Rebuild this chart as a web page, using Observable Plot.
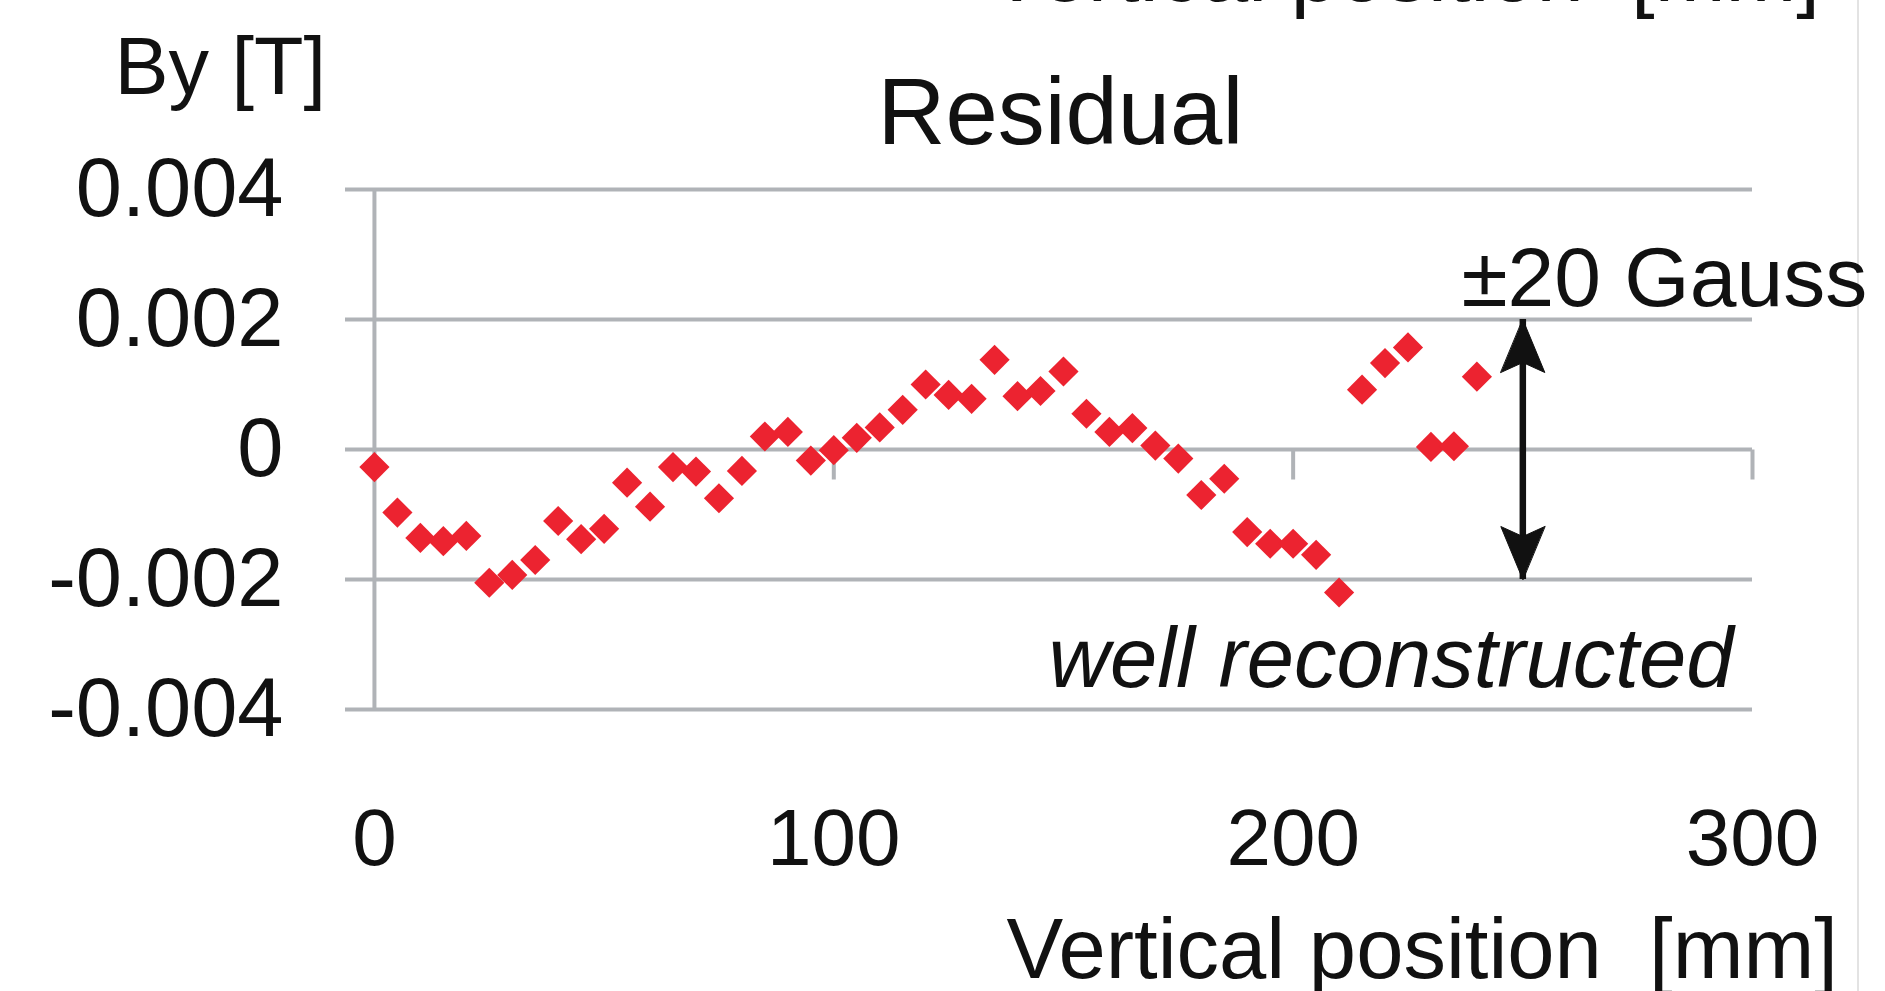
<!DOCTYPE html>
<html>
<head>
<meta charset="utf-8">
<script src="https://cdn.jsdelivr.net/npm/d3@7"></script>
<script src="https://cdn.jsdelivr.net/npm/@observablehq/plot@0.6"></script>
<style>
  html, body { margin: 0; padding: 0; overflow: hidden; background: #fff; }
  #wrap { position: relative; width: 1885px; height: 991px; }
  #edge { position: absolute; left: 1857px; top: 0; width: 2px; height: 991px; background: #e3e3e3; }
  #chart { position: absolute; left: 0; top: 0; }
</style>
</head>
<body>
<div id="wrap"><div id="edge"></div><div id="chart"></div></div>
<script>
// Vertical position [mm]
const positions = [0, 5, 10, 15, 20, 25, 30, 35, 40, 45, 50, 55, 60, 65, 70, 75, 80, 85, 90, 95,
  100, 105, 110, 115, 120, 125, 130, 135, 140, 145, 150, 155, 160, 165, 170, 175, 180, 185, 190, 195,
  200, 205, 210, 215, 220, 225, 230, 235, 240];
// Residual By [T]
const residuals = [-0.00027, -0.00097, -0.00136, -0.00141, -0.00133, -0.00205, -0.00193, -0.00170, -0.00110, -0.00138,
  -0.00122, -0.00051, -0.00088, -0.00027, -0.00034, -0.00075, -0.00033, 0.00020, 0.00027, -0.00017,
  -0.00001, 0.00018, 0.00034, 0.00061, 0.00100, 0.00084, 0.00078, 0.00138, 0.00082, 0.00090,
  0.00120, 0.00055, 0.00027, 0.00033, 0.00006, -0.00014, -0.00070, -0.00045, -0.00127, -0.00145,
  -0.00145, -0.00162, -0.00220, 0.00092, 0.00133, 0.00157, 0.00004, 0.00005, 0.00112];

const xTicks = [0, 100, 200, 300];
const yTicks = [-0.004, -0.002, 0, 0.002, 0.004];
const yTickLabels = ["-0.004", "-0.002", "0", "0.002", "0.004"];

const titleText = "Residual";
const yTitle = "By [T]";
const xTitle = "Vertical position\u00a0 [mm]";
const bandText = "±20 Gauss";
const noteText = "well reconstructed";
const gaussBand = 0.002;   // ±20 Gauss = ±0.002 T
const arrowAt = 250;       // mm

const data = positions.map((x, i) => ({x, y: residuals[i]}));
const yLabelOf = new Map(yTicks.map((v, i) => [v, yTickLabels[i]]));

const W = 1885, H = 991;
const mL = 345, mR = 133, mT = 189, mB = 282;
const gridColor = "#b0b3b7";
const ink = "#111";
const red = "#ec2330";

const label = (text, px, py, opts = {}) => Plot.text([text], {
  text: d => d, frameAnchor: "top-left", dx: px - mL, dy: py - mT,
  lineAnchor: "bottom", textAnchor: "start", fill: ink, fontSize: 80, ...opts
});

const tickShape = { draw(ctx, l) { ctx.moveTo(0, 0); ctx.lineTo(0, -l); } };
const headShape = { draw(ctx, l) {
  ctx.moveTo(0, -l); ctx.lineTo(22, 0); ctx.lineTo(0, -10); ctx.lineTo(-22, 0); ctx.closePath();
} };

const chart = Plot.plot({
  width: W, height: H,
  marginLeft: mL, marginRight: mR, marginTop: mT, marginBottom: mB,
  style: { background: "transparent", fontFamily: "'Liberation Sans', Arial, sans-serif", color: ink, overflow: "hidden" },
  x: { domain: [-6.3, 300], label: null },
  y: { domain: [-0.004, 0.004], label: null },
  marks: [
    Plot.gridY(yTicks, { stroke: gridColor, strokeOpacity: 1, strokeWidth: 4 }),
    Plot.ruleX([0], { y1: yTicks[yTicks.length - 1], y2: yTicks[0], stroke: gridColor, strokeWidth: 4 }),
    Plot.vector(xTicks.filter(d => d > 0), { x: d => d, y: 0, length: 30, rotate: 180, anchor: "start",
      shape: tickShape, stroke: gridColor, strokeWidth: 4, strokeLinecap: "butt" }),
    Plot.axisY(yTicks, { tickSize: 0, tickPadding: 62, fontSize: 83, fill: ink,
      tickFormat: d => yLabelOf.get(d), label: null }),
    Plot.axisX(xTicks, { tickSize: 0, tickPadding: 99, fontSize: 80, fill: ink,
      tickFormat: d => String(d), label: null }),
    Plot.dot(data, { x: "x", y: "y", symbol: "diamond2", r: 13.6, fill: red, stroke: "none" }),
    Plot.ruleX([arrowAt], { y1: gaussBand, y2: -gaussBand, stroke: ink, strokeWidth: 6.5 }),
    Plot.vector([{v: gaussBand, r: 0}, {v: -gaussBand, r: 180}], { x: arrowAt, y: "v", rotate: "r",
      length: 53, anchor: "end", shape: headShape, fill: ink, stroke: ink, strokeWidth: 1 }),
    label(yTitle, 114, 93, { fontSize: 81 }),
    label(titleText, 877, 143, { fontSize: 94 }),
    label(bandText, 1461, 305, { fontSize: 84 }),
    label(noteText, 1048, 686, { fontSize: 85, fontStyle: "italic" }),
    label(xTitle, 1006, 977, { fontSize: 85 }),
    label(xTitle, 988, 0, { fontSize: 85 })
  ]
});
document.getElementById("chart").appendChild(chart);
</script>
</body>
</html>
